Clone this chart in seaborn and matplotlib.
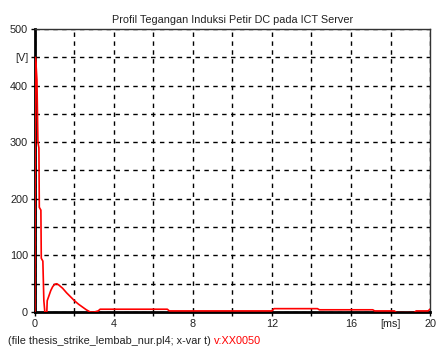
import matplotlib
matplotlib.use("Agg")
import matplotlib.pyplot as plt
import seaborn as sns
import numpy as np
import pandas as pd

import logging
logging.getLogger("matplotlib.font_manager").setLevel(logging.ERROR)

# time [ms] and induced voltage [V]
time_ms = [0.0, 0.02, 0.05, 0.1, 0.15, 0.2, 0.22, 0.3, 0.32, 0.4, 0.45, 0.5, 0.6,
           0.62, 0.7, 0.8, 0.9, 1.0, 1.1, 1.2, 1.4, 1.6, 1.8, 2.0, 2.2, 2.4,
           2.6, 2.8, 3.0, 3.2, 3.3, 6.7, 6.8, 12.0, 12.1, 14.3, 14.4, 17.1,
           17.2, 18.2, 18.3, 19.2, 19.3, 19.9, 20.0]
voltage_v = [0, 450, 440, 410, 300, 290, 185, 180, 95, 90, 20, 0, 0,
             20, 28, 38, 45, 49, 50, 48, 42, 34, 27, 20, 14, 9,
             4, 0, 0, 2, 5, 5, 2, 2, 6, 6, 4, 4,
             2, 2, -1, -1, 2, 2, 5]

xticks = np.arange(0, 21, 2)
xtick_labels = ['0', '', '4', '', '8', '', '12', '', '16', '[ms]', '20']
yticks = np.arange(0, 501, 50)
ytick_labels = ['0', '', '100', '', '200', '', '300', '', '400', '[V]', '500']

title = 'Profil Tegangan Induksi Petir DC pada ICT Server'
footer = '(file thesis_strike_lembab_nur.pl4; x-var t) '
series_name = 'v:XX0050'

sns.set_style("white")
fam = ['Liberation Sans Narrow', 'Liberation Sans', 'DejaVu Sans']
plt.rcParams['font.family'] = fam
fs = 7.8

df = pd.DataFrame({'t': time_ms, 'v': voltage_v})

fig = plt.figure(figsize=(4.37, 3.53), dpi=100)
ax = fig.add_axes([0.080, 0.116, 0.904, 0.802])

sns.lineplot(data=df, x='t', y='v', color='#ff0000', linewidth=1.2, ax=ax,
             estimator=None, sort=False, zorder=3)

ax.set_xlim(0, 20)
ax.set_ylim(0, 500)
ax.set_xticks(xticks)
ax.set_xticklabels(xtick_labels)
ax.set_yticks(yticks)
ax.set_yticklabels(ytick_labels)
ax.set_xlabel('')
ax.set_ylabel('')

ax.grid(True, color='black', linestyle=(0, (3.2, 3.2)), linewidth=1.0)
ax.tick_params(axis='both', direction='out', length=3, width=1, colors='black',
               labelsize=fs, pad=2, left=True, bottom=True)
for lab in ax.get_xticklabels() + ax.get_yticklabels():
    lab.set_color('#222222')

for side in ['left', 'bottom']:
    ax.spines[side].set_linewidth(2)
    ax.spines[side].set_color('black')
for side in ['top', 'right']:
    ax.spines[side].set_linewidth(1)
    ax.spines[side].set_color('#333333')

ax.set_title(title, fontsize=fs, pad=4, color='#222222')

t1 = fig.text(0.018, 0.02, footer, fontsize=fs, color='#222222', va='bottom')
fig.canvas.draw()
bb = t1.get_window_extent()
fig.text(bb.x1 / fig.bbox.width, 0.02, series_name, fontsize=fs, color='#ff0000', va='bottom')

fig.savefig('out.png', dpi=100)
